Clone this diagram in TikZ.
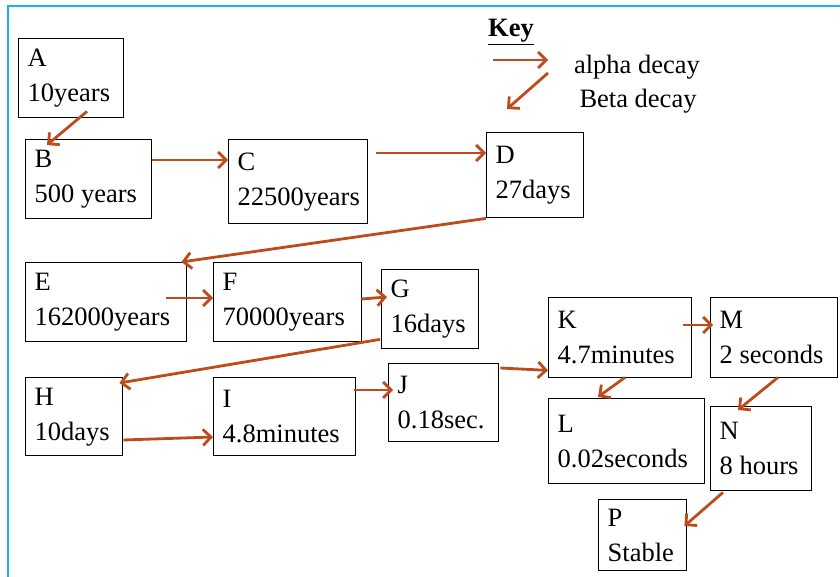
\documentclass[tikz,border=0pt]{standalone}
\usepackage{fontspec}
\setmainfont{Liberation Serif}
\usepackage{tikz}
\usetikzlibrary{arrows.meta}
\definecolor{decaycolor}{HTML}{BE4B1C}
\definecolor{framecolor}{HTML}{1AB2EE}

\begin{document}
\begin{tikzpicture}[
    x=1pt, y=-1pt,
    nuclide/.style={rectangle, draw=black, line width=1.4pt, anchor=north west,
                    align=flush left, inner xsep=9pt, inner ysep=4pt,
                    font=\fontsize{26.5}{35}\selectfont},
    keytext/.style={inner sep=0pt, font=\fontsize{26.5}{35}\selectfont},
    decay/.style={-{Straight Barb[length=8pt, width=16pt]}, line width=2.8pt, color=decaycolor}
]
    \useasboundingbox (0,0) rectangle (840,577);
    \draw[framecolor, line width=1.5pt] (8,577) -- (8,6) -- (840,6);

    % decay chain
    \node[nuclide, text width=87pt, minimum height=79pt] (a) at (18,38) {A\\10years};
    \node[nuclide, text width=108pt, minimum height=79pt] (b) at (25,139) {B\\500 years};
    \node[nuclide, text width=121pt, minimum height=84pt] (c) at (228,139) {C\\22500years};
    \node[nuclide, text width=79pt, minimum height=85pt] (d) at (486,132) {D\\27days};
    \node[nuclide, text width=143pt, minimum height=79pt] (e) at (25,262) {E\\162000years};
    \node[nuclide, text width=130pt, minimum height=79pt] (f) at (213,262) {F\\70000years};
    \node[nuclide, text width=79pt, minimum height=79pt] (g) at (381,269) {G\\16days};
    \node[nuclide, text width=79pt, minimum height=78pt] (h) at (25,377) {H\\10days};
    \node[nuclide, text width=124pt, minimum height=78pt] (i) at (213,377) {I\\4.8minutes};
    \node[nuclide, text width=92pt, minimum height=78pt] (j) at (388,363) {J\\0.18sec.};
    \node[nuclide, text width=125pt, minimum height=80pt] (k) at (548,297) {K\\4.7minutes};
    \node[nuclide, text width=109pt, minimum height=80pt] (m) at (710,297) {M\\2 seconds};
    \node[nuclide, text width=138pt, minimum height=85pt] (l) at (548,398) {L\\0.02seconds};
    \node[nuclide, text width=83pt, minimum height=84pt] (n) at (710,406) {N\\8 hours};
    \node[nuclide, text width=70pt, minimum height=71pt] (p) at (598,499) {P\\Stable};

    \draw[decay] ([shift={(69,-7)}]a.south west) -- ([shift={(22,6)}]b.north west);
    \draw[decay] ([shift={(0,21)}]b.north east) -- ([shift={(0,21)}]c.north west);
    \draw[decay] ([shift={(8,14)}]c.north east) -- ([shift={(0,21)}]d.north west);
    \draw[decay] (d.south west) -- ([shift={(-6,0)}]e.north east);
    \draw[decay] ([shift={(-21,36)}]e.north east) -- ([shift={(0,36)}]f.north west);
    \draw[decay] ([shift={(-1,37)}]f.north east) -- ([shift={(6,28)}]g.north west);
    \draw[decay] ([shift={(-1,-10)}]g.south west) -- ([shift={(-4,6)}]h.north east);
    \draw[decay] ([shift={(0,63)}]h.north east) -- ([shift={(0,60)}]i.north west);
    \draw[decay] ([shift={(-2,13)}]i.north east) -- ([shift={(5,27)}]j.north west);
    \draw[decay] ([shift={(1,5)}]j.north east) -- ([shift={(0,-8)}]k.south west);
    \draw[decay] ([shift={(-9,28)}]k.north east) -- ([shift={(3,28)}]m.north west);
    \draw[decay] ([shift={(77,-1)}]k.south west) -- ([shift={(50,-1)}]l.north west);
    \draw[decay] ([shift={(68,-1)}]m.south west) -- ([shift={(28,4)}]n.north west);
    \draw[decay] ([shift={(13,1)}]n.south west) -- ([shift={(-3,27)}]p.north east);

    % key
    \node[keytext, anchor=base west] (keytitle) at (488,37) {\underline{\textbf{Key}}};
    \node[keytext, anchor=base] (alphatext) at (637,74) {alpha decay};
    \node[keytext, anchor=base] (betatext) at (638,108) {Beta decay};
    \coordinate (alphafrom) at (493,60);
    \coordinate (alphato) at (548,60);
    \coordinate (betafrom) at (548,73);
    \coordinate (betato) at (507,109);
    \draw[decay] (alphafrom) -- (alphato);
    \draw[decay] (betafrom) -- (betato);
\end{tikzpicture}
\end{document}
